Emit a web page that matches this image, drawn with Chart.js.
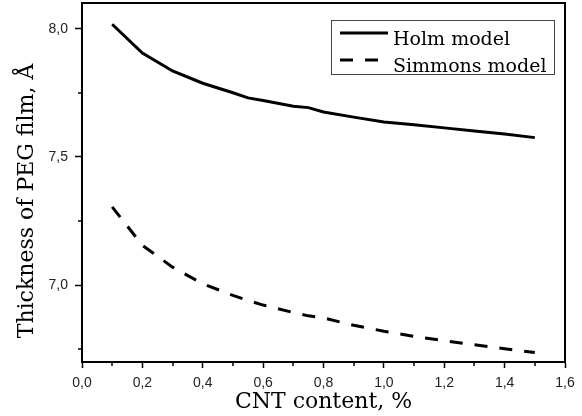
<!DOCTYPE html>
<html>
<head>
<meta charset="utf-8">
<script src="https://cdn.jsdelivr.net/npm/chart.js@4"></script>
<style>
  body { margin: 0; background: #fff; }
</style>
</head>
<body>
<canvas id="chart" width="582" height="416"></canvas>
<script>
// CNT content, %
const cntContent = [0.1, 0.2, 0.3, 0.4, 0.5, 0.55, 0.6, 0.7, 0.75, 0.8, 0.9, 1.0, 1.1, 1.2, 1.3, 1.4, 1.5];

// thickness, Å
const holmValues = [8.017, 7.905, 7.835, 7.787, 7.75, 7.73, 7.72, 7.697, 7.692, 7.675, 7.655, 7.636, 7.625, 7.613, 7.601, 7.589, 7.575];
const simmonsValues = [7.305, 7.155, 7.07, 7.005, 6.96, 6.94, 6.922, 6.893, 6.88, 6.872, 6.843, 6.82, 6.80, 6.783, 6.767, 6.752, 6.737];

const xTicks = [0.0, 0.2, 0.4, 0.6, 0.8, 1.0, 1.2, 1.4, 1.6];
const yTicks = [7.0, 7.5, 8.0];
const xMinorTicks = [0.1, 0.3, 0.5, 0.7, 0.9, 1.1, 1.3, 1.5];
const yMinorTicks = [6.75, 7.25, 7.75];

const yTitle = 'Thickness of PEG film, Å';

const serif = '"DejaVu Serif", "Liberation Serif", serif';
const sans = '"Liberation Sans", Arial, sans-serif';

const comma = v => Number(v).toFixed(1).replace('.', ',');

// frame, minor ticks, y title, legend box
const extras = {
    id: 'extras',
    afterDraw(chart) {
        const ctx = chart.ctx;
        const a = chart.chartArea;
        const xs = chart.scales.x, ys = chart.scales.y;
        ctx.save();
        ctx.strokeStyle = '#000';
        ctx.lineWidth = 2;
        ctx.strokeRect(a.left, a.top, a.right - a.left, a.bottom - a.top);

        ctx.lineWidth = 1.5;
        ctx.beginPath();
        xMinorTicks.forEach(v => {
            const px = Math.round(xs.getPixelForValue(v));
            ctx.moveTo(px, a.bottom);
            ctx.lineTo(px, a.bottom + 4);
        });
        yMinorTicks.forEach(v => {
            const py = Math.round(ys.getPixelForValue(v));
            ctx.moveTo(a.left, py);
            ctx.lineTo(a.left - 4, py);
        });
        ctx.stroke();

        // y axis title (sits lower than the plot centre in the original)
        ctx.save();
        ctx.translate(27, 201);
        ctx.rotate(-Math.PI / 2);
        ctx.font = '22px ' + serif;
        ctx.fillStyle = '#000';
        ctx.textAlign = 'center';
        ctx.textBaseline = 'middle';
        ctx.fillText(yTitle, 0, 0);
        ctx.restore();

        // legend
        const bx = 331, by = 20, bw = 223, bh = 54;
        ctx.lineWidth = 1;
        ctx.strokeStyle = '#444';
        ctx.strokeRect(bx + 0.5, by + 0.5, bw, bh);
        ctx.font = '19px ' + serif;
        ctx.fillStyle = '#000';
        ctx.textBaseline = 'alphabetic';
        chart.data.datasets.forEach((ds, i) => {
            const ly = 33 + i * 27;
            ctx.strokeStyle = '#000';
            ctx.lineWidth = 3;
            ctx.setLineDash(ds.borderDash || []);
            ctx.beginPath();
            ctx.moveTo(340, ly);
            ctx.lineTo(388, ly);
            ctx.stroke();
            ctx.setLineDash([]);
            ctx.fillText(ds.label, 393, ly + 12);
        });
        ctx.restore();
    }
};

new Chart(document.getElementById('chart'), {
    type: 'line',
    data: {
        datasets: [{
            label: 'Holm model',
            data: cntContent.map((x, i) => ({ x: x, y: holmValues[i] })),
            borderColor: '#000',
            borderWidth: 3,
            pointRadius: 0,
            tension: 0
        }, {
            label: 'Simmons model',
            data: cntContent.map((x, i) => ({ x: x, y: simmonsValues[i] })),
            borderColor: '#000',
            borderWidth: 3,
            borderDash: [13, 12],
            pointRadius: 0,
            tension: 0
        }]
    },
    options: {
        responsive: false,
        animation: false,
        layout: { padding: { left: 0, top: 3, right: 17, bottom: 0 } },
        plugins: {
            legend: { display: false },
            tooltip: { enabled: false }
        },
        scales: {
            x: {
                type: 'linear',
                min: 0,
                max: 1.6,
                afterBuildTicks: s => { s.ticks = xTicks.map(v => ({ value: v })); },
                afterFit: s => { s.height = 54; s.paddingLeft = 0; s.paddingRight = 0; },
                grid: { display: true, drawOnChartArea: false, drawTicks: true, tickLength: 6, tickWidth: 1.5, tickColor: '#000' },
                border: { display: true, color: '#000', width: 2 },
                ticks: {
                    callback: v => comma(v),
                    color: '#222',
                    padding: 7,
                    maxRotation: 0,
                    font: { family: sans, size: 14 }
                },
                title: {
                    display: true,
                    text: 'CNT content, %',
                    color: '#000',
                    font: { family: serif, size: 22 },
                    padding: { top: 1, bottom: 1 }
                }
            },
            y: {
                min: 6.7,
                max: 8.1,
                afterBuildTicks: s => { s.ticks = yTicks.map(v => ({ value: v })); },
                afterFit: s => { s.width = 82; s.paddingTop = 0; s.paddingBottom = 0; },
                grid: { display: true, drawOnChartArea: false, drawTicks: true, tickLength: 7, tickWidth: 1.5, tickColor: '#000' },
                border: { display: true, color: '#000', width: 2 },
                ticks: {
                    callback: v => comma(v),
                    color: '#222',
                    padding: 7,
                    font: { family: sans, size: 14 }
                }
            }
        }
    },
    plugins: [extras]
});
</script>
</body>
</html>
